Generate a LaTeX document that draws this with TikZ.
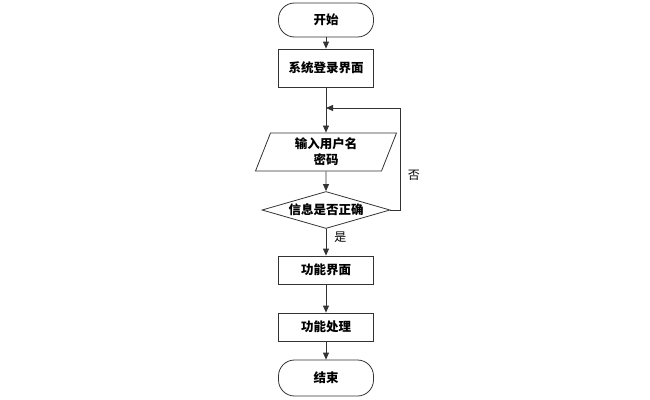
\documentclass[tikz,border=0pt]{standalone}
\usepackage{fontspec}
\newfontfamily\cjk{Noto Sans CJK SC}
\usetikzlibrary{arrows.meta,shapes.geometric}

\begin{document}
\begin{tikzpicture}[x=1pt, y=1pt, >={Triangle[length=7pt,width=6pt]},
    caja/.style={rectangle, draw=black!80, line width=0.8pt, minimum width=95pt, font=\cjk\bfseries\fontsize{12.5}{16}\selectfont, align=center},
    terminal/.style={caja, rounded corners=16pt, minimum height=34pt},
    entrada/.style={caja, trapezium, trapezium left angle=63.4, trapezium right angle=116.6, trapezium stretches body, minimum width=141pt, minimum height=38pt, inner sep=1pt},
    decision/.style={caja, diamond, shape aspect=3.46, inner sep=0pt, minimum width=128pt, minimum height=37pt},
    flecha/.style={->, draw=black!80, line width=0.8pt},
    etiqueta/.style={font=\cjk\fontsize{12}{14}\selectfont, inner sep=2pt}]
\useasboundingbox (0,0) rectangle (650,-399);

% Nodos del flujo principal
\node (inicio) [terminal] at (326, -20) {开始};
\node (login) [caja, minimum height=38pt] at (326, -68) {系统登录界面};
\node (usuario) [entrada] at (326, -152) {输入用户名\\密码};
\node (verifica) [decision] at (326, -210) {信息是否正确};
\node (funcion) [caja, minimum height=28pt] at (326, -270) {功能界面};
\node (proceso) [caja, minimum height=28pt] at (326, -327) {功能处理};
\node (fin) [terminal, minimum height=36pt] at (326, -378) {结束};
\coordinate (union) at (326, -108);

% Aristas
\draw [flecha] (inicio) -- (login);
\draw [flecha, -] (login) -- (union);
\draw [flecha] (union) -- (usuario);
\draw [flecha] (usuario) -- (verifica);
\draw [flecha] (verifica) -- node (si) [etiqueta, pos=0.3, right=6pt] {是} (funcion);
\draw [flecha] (funcion) -- (proceso);
\draw [flecha] (proceso) -- (fin);

% Retorno cuando la verificación falla
\draw [flecha] (verifica.east) -- ++(10, 0) |- node (no) [etiqueta, pos=0.17, right=5pt] {否} (union);
\end{tikzpicture}
\end{document}
